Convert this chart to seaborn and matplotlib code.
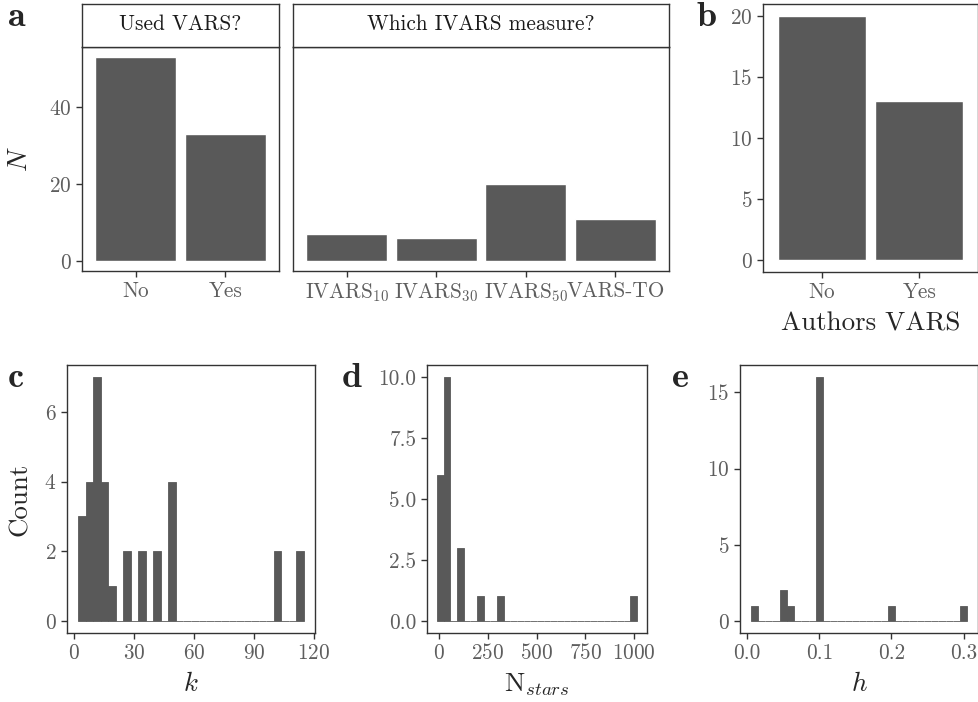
import numpy as np
import matplotlib
matplotlib.use("Agg")
import matplotlib.pyplot as plt
import seaborn as sns

# panel a: survey answers
used_vars_labels = ["No", "Yes"]
used_vars_n = [53, 33]
ivars_labels = ["IVARS$_{10}$", "IVARS$_{30}$", "IVARS$_{50}$", "VARS-TO"]
ivars_n = [7, 6, 20, 11]

# panel b
authors_labels = ["No", "Yes"]
authors_n = [20, 13]

# panels c-e: raw values
k_values = [4, 4, 5, 6, 7, 8, 9, 10, 10, 10, 11, 12, 12, 13, 14, 15, 16, 16, 20,
            26, 27, 34, 35, 40, 42, 48, 50, 50, 50, 100, 102, 113, 113]
n_stars = [5, 10, 10, 10, 15, 20, 25, 30, 30, 30, 40, 40, 50, 50, 50, 50,
           100, 100, 100, 200, 300, 1000]
h_values = [0.01, 0.05, 0.05, 0.06] + [0.1] * 16 + [0.2, 0.3]

BAR = "#595959"
FRAME = "#333333"
TICK_TXT = "#5E5E5E"
TICK_SIZE = 15.3
TITLE_SIZE = 19.4

sns.set_theme(style="ticks")
plt.rcParams["font.family"] = ["cmr10", "DejaVu Serif"]
plt.rcParams["mathtext.fontset"] = "cm"
plt.rcParams["axes.formatter.use_mathtext"] = True
plt.rcParams["axes.unicode_minus"] = False

W, H = 979, 702
fig = plt.figure(figsize=(W / 100, H / 100), dpi=100)


def px_axes(x0, y0, x1, y1):
    return fig.add_axes([x0 / W, 1 - y1 / H, (x1 - x0) / W, (y1 - y0) / H])


def style(ax):
    for s in ax.spines.values():
        s.set_visible(True)
        s.set_color(FRAME)
        s.set_linewidth(1.0)
    ax.tick_params(axis="both", length=4, width=1, color=FRAME,
                   labelsize=TICK_SIZE, labelcolor=TICK_TXT, pad=3.5)
    ax.grid(False)
    ax.set_xlabel("")
    ax.set_ylabel("")


def strip(x0, x1, text):
    s = px_axes(x0, 4, x1, 47)
    s.set_xticks([])
    s.set_yticks([])
    for sp in s.spines.values():
        sp.set_color(FRAME)
        sp.set_linewidth(1.0)
    s.text(0.5, 0.52, text, ha="center", va="center", fontsize=TICK_SIZE,
           color="#1A1A1A", transform=s.transAxes)


def bars(ax, labels, values):
    sns.barplot(x=labels, y=values, color=BAR, saturation=1, width=0.9,
                errorbar=None, ax=ax)
    ax.set_xlim(-0.6, len(labels) - 0.4)
    style(ax)


def hist(ax, values):
    lo, hi = min(values), max(values)
    w = (hi - lo) / 29
    edges = lo - w / 2 + w * np.arange(31)
    sns.histplot(x=values, bins=edges, color=BAR, alpha=1, edgecolor=BAR,
                 linewidth=0.6, ax=ax)
    span = edges[-1] - edges[0]
    ax.set_xlim(edges[0] - 0.05 * span, edges[-1] + 0.05 * span)
    counts, _ = np.histogram(values, bins=edges)
    ax.set_ylim(-0.05 * counts.max(), 1.05 * counts.max())
    style(ax)


# ---- panel a ----
ymax_a = max(used_vars_n + ivars_n)
ax1 = px_axes(82, 47, 279, 271)
bars(ax1, used_vars_labels, used_vars_n)
ax1.set_ylim(-0.05 * ymax_a, 1.05 * ymax_a)
ax1.set_yticks([0, 20, 40])
ax1.set_ylabel("$N$", fontsize=TITLE_SIZE)
ax1.yaxis.set_label_coords(-0.255, 0.5)
strip(82, 279, "Used VARS?")

ax2 = px_axes(293, 47, 669, 271)
bars(ax2, ivars_labels, ivars_n)
ax2.set_ylim(-0.05 * ymax_a, 1.05 * ymax_a)
ax2.set_yticks([])
strip(293, 669, "Which IVARS measure?")

# ---- panel b ----
axb = px_axes(763, 4, 978, 272)
bars(axb, authors_labels, authors_n)
axb.set_ylim(-0.05 * max(authors_n), 1.05 * max(authors_n))
axb.set_yticks([0, 5, 10, 15, 20])
axb.set_xlabel("Authors VARS", fontsize=TITLE_SIZE)
axb.xaxis.set_label_coords(0.5, -0.148)

# ---- panels c, d, e ----
axc = px_axes(67, 365, 315, 633)
hist(axc, k_values)
axc.set_xticks([0, 30, 60, 90, 120])
axc.set_yticks([0, 2, 4, 6])
axc.set_ylabel("Count", fontsize=TITLE_SIZE)
axc.yaxis.set_label_coords(-0.14, 0.5)
axc.set_xlabel("$k$", fontsize=TITLE_SIZE)
axc.xaxis.set_label_coords(0.5, -0.145)

axd = px_axes(427, 365, 647, 633)
hist(axd, n_stars)
axd.set_xticks([0, 250, 500, 750, 1000])
axd.set_yticks([0, 2.5, 5, 7.5, 10])
axd.set_yticklabels(["0.0", "2.5", "5.0", "7.5", "10.0"])
axd.set_xlabel("N$_{stars}$", fontsize=TITLE_SIZE)
axd.xaxis.set_label_coords(0.5, -0.145)

axe = px_axes(740, 365, 978, 633)
hist(axe, h_values)
axe.set_xticks([0.0, 0.1, 0.2, 0.3])
axe.set_xticklabels(["0.0", "0.1", "0.2", "0.3"])
axe.set_yticks([0, 5, 10, 15])
axe.set_xlabel("$h$", fontsize=TITLE_SIZE)
axe.xaxis.set_label_coords(0.5, -0.145)

# panel tags
for x, y, t in [(8, 26, "a"), (697, 26, "b"), (8, 387, "c"), (342, 387, "d"), (672, 387, "e")]:
    fig.text(x / W, 1 - y / H, t, family="cmb10", fontsize=26, ha="left", va="baseline")

fig.savefig("out.png", dpi=100)
